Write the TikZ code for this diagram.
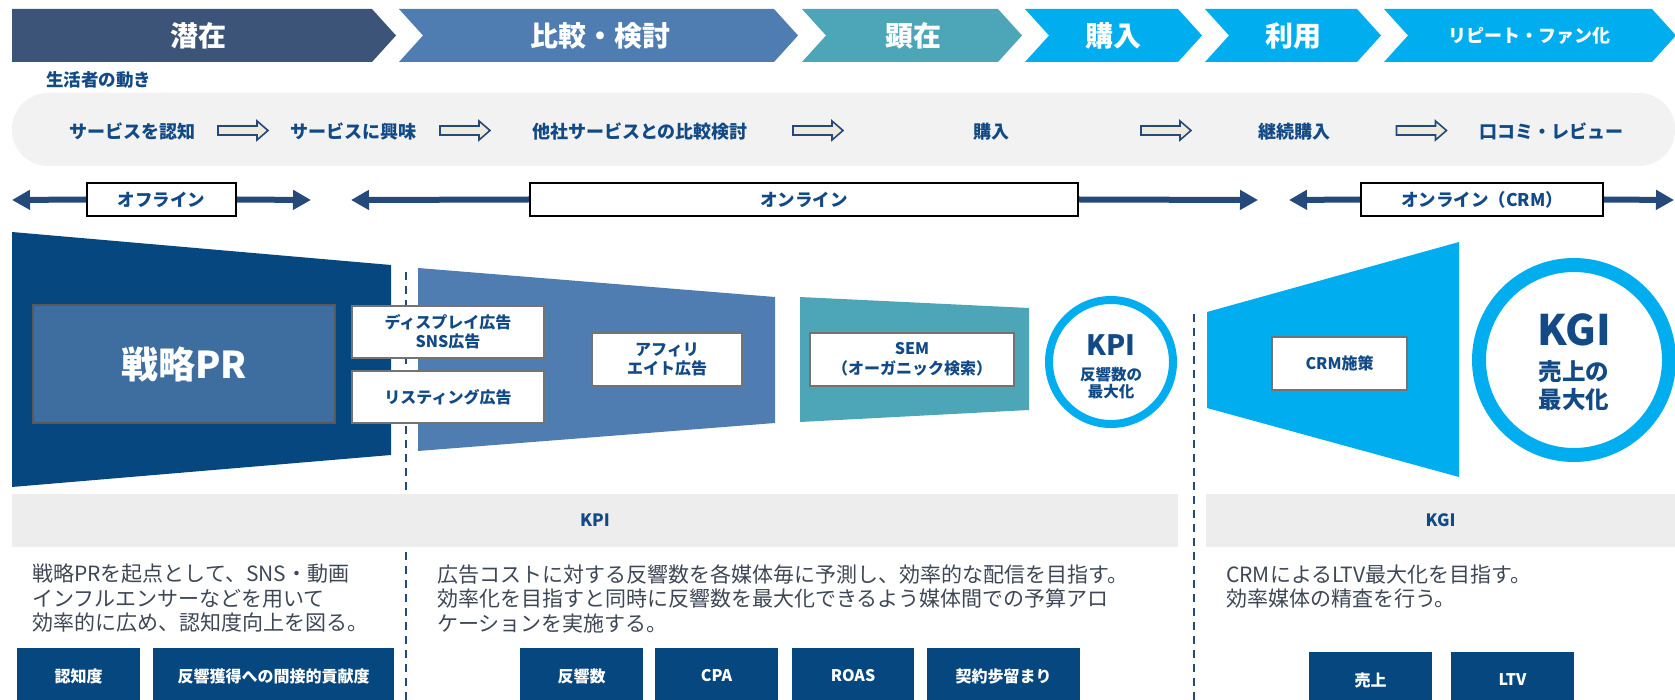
\documentclass[tikz,border=0pt]{standalone}
\usepackage{fontspec}
\setmainfont{Noto Sans CJK JP}
\usetikzlibrary{arrows.meta}

\definecolor{stageA}{HTML}{3B5477}
\definecolor{stageB}{HTML}{4F7DB2}
\definecolor{stageC}{HTML}{4DA5B8}
\definecolor{stageD}{HTML}{00AEEF}
\definecolor{navy}{HTML}{06477F}
\definecolor{prblue}{HTML}{3E6E9F}
\definecolor{labelblue}{HTML}{124A86}
\definecolor{linkblue}{HTML}{24497A}
\definecolor{bandgray}{HTML}{F2F2F2}
\definecolor{bargray}{HTML}{EDEDED}
\definecolor{bodytext}{HTML}{3D4755}
\definecolor{arrowfill}{HTML}{EEEADD}

\newcommand{\fsz}[2]{\fontsize{#1pt}{#2pt}\selectfont}

\begin{document}
\begin{tikzpicture}[x=1pt, y=-1pt, line join=miter,
  >={Triangle[length=18pt,width=19pt]},
  stagetext/.style={text=white, font=\fsz{28}{32}\bfseries},
  flowtext/.style={text=labelblue, font=\fsz{18}{22}\bfseries},
  pics/flowarrow/.style={code={
    \draw[linkblue, fill=arrowfill, line width=1.6pt]
      (-25,-4.5) -- (14,-4.5) -- (14,-9.5) -- (25,0) -- (14,9.5) -- (14,4.5) -- (-25,4.5) -- cycle;}},
  modebox/.style={draw=black, line width=2pt, fill=white, minimum height=33pt,
    text=labelblue, font=\fsz{17.5}{20}\bfseries},
  modeline/.style={draw=linkblue, line width=6pt, ->},
  adbox/.style={draw=gray!90!black, line width=2pt, fill=white, minimum height=53pt,
    align=center, text=labelblue, font=\fsz{16}{19.5}\bfseries},
  divider/.style={draw=linkblue, line width=2.5pt, dash pattern=on 8pt off 6pt},
  ring/.style={draw=stageD, fill=white},
  bar/.style={fill=bargray, minimum height=53pt, text=labelblue, font=\fsz{17}{20}\bfseries},
  body/.style={anchor=west, align=left, inner sep=0pt, text=bodytext, font=\fsz{21}{24.5}},
  metric/.style={fill=navy, text=white, minimum height=56pt, font=\fsz{16}{19}\bfseries},
]
  \useasboundingbox (0,0) rectangle (1675,700);

  % Stages across the top
  \fill[stageA] (12,9) -- (372,9) -- (396,35.5) -- (372,62) -- (12,62) -- cycle;
  \foreach \l/\r/\c in {399/774/stageB, 802/998/stageC, 1025/1178/stageD,
                        1205/1357/stageD, 1384/1652/stageD}
    \fill[\c] (\l,9) -- (\r,9) -- (\r+24,35.5) -- (\r,62) -- (\l,62) -- (\l+24,35.5) -- cycle;
  \node[stagetext] (s1) at (198,35.5) {潜在};
  \node[stagetext] (s2) at (600,35.5) {比較・検討};
  \node[stagetext] (s3) at (913,35.5) {顕在};
  \node[stagetext] (s4) at (1113,35.5) {購入};
  \node[stagetext] (s5) at (1293,35.5) {利用};
  \node[stagetext, font=\fsz{18}{22}\bfseries] (s6) at (1529,35.5) {リピート・ファン化};

  % Consumer journey band
  \node[flowtext, font=\fsz{17.5}{20}\bfseries, anchor=west, inner sep=0pt] (journey) at (46,80) {生活者の動き};
  \fill[bandgray, rounded corners=36pt] (12,93) rectangle (1675,166);
  \node[flowtext] (b1) at (132,131.5) {サービスを認知};
  \pic (a1) at (243,130.5) {flowarrow};
  \node[flowtext] (b2) at (353,131.5) {サービスに興味};
  \pic (a2) at (465,130.5) {flowarrow};
  \node[flowtext] (b3) at (640,131.5) {他社サービスとの比較検討};
  \pic (a3) at (818,130.5) {flowarrow};
  \node[flowtext] (b4) at (991,131.5) {購入};
  \pic (a4) at (1166,130.5) {flowarrow};
  \node[flowtext] (b5) at (1294,131.5) {継続購入};
  \pic (a5) at (1421.5,130.5) {flowarrow};
  \node[flowtext] (b6) at (1551,131.5) {口コミ・レビュー};

  % Offline / online spans
  \coordinate (offL) at (12,200);
  \coordinate (offR) at (311,200);
  \coordinate (onL) at (351,200);
  \coordinate (onR) at (1258,200);
  \coordinate (crmL) at (1289,200);
  \coordinate (crmR) at (1674,200);
  \node[modebox, minimum width=149pt] (off) at (161.5,199.5) {オフライン};
  \node[modebox, minimum width=548pt] (on) at (804,199.5) {オンライン};
  \node[modebox, minimum width=242pt] (crmon) at (1482,199.5) {オンライン（CRM）};
  \draw[modeline] (off.west) -- (offL);
  \draw[modeline] (off.east) -- (offR);
  \draw[modeline] (on.west) -- (onL);
  \draw[modeline] (on.east) -- (onR);
  \draw[modeline] (crmon.west) -- (crmL);
  \draw[modeline] (crmon.east) -- (crmR);

  % Dividers
  \draw[divider] (406,272) -- (406,700);
  \draw[divider] (1194,314) -- (1194,700);

  % Funnel: PR, ads, SEM
  \fill[navy] (12,232) -- (391,265) -- (391,455) -- (12,487) -- cycle;
  \node[draw=gray!70!black, line width=2pt, fill=prblue, minimum width=302pt, minimum height=118pt,
        text=white, font=\fsz{37}{40}\bfseries] (pr) at (184,364) {戦略PR};
  \fill[stageB] (418,268) -- (775,297) -- (775,423) -- (418,451) -- cycle;
  \node[adbox, minimum width=192pt, minimum height=52pt] (disp) at (448,332) {ディスプレイ広告\\SNS広告};
  \node[adbox, minimum width=192pt, minimum height=52pt] (list) at (448,397) {リスティング広告};
  \node[adbox, minimum width=150pt] (affi) at (667,359.5) {アフィリ\\エイト広告};
  \fill[stageC] (800,297) -- (1029,308) -- (1029,410) -- (800,422) -- cycle;
  \node[adbox, minimum width=204pt] (sem) at (912,359.5) {SEM\\（オーガニック検索）};

  % KPI target
  \draw[ring, line width=8pt] (1111,362) circle[radius=62];
  \node[text=labelblue, font=\fsz{28}{30}\bfseries] (kpi) at (1111,345) {KPI};
  \node[text=labelblue, align=center, font=\fsz{15.5}{16.5}\bfseries] (kpisub) at (1111,383) {反響数の\\最大化};

  % CRM funnel and KGI target
  \fill[stageD] (1207,312) -- (1459,242) -- (1459,477) -- (1207,408) -- cycle;
  \node[adbox, minimum width=135pt] (crm) at (1339.5,363.5) {CRM施策};
  \draw[ring, line width=14pt] (1574,360) circle[radius=95];
  \node[text=labelblue, font=\fsz{42}{44}\bfseries] (kgi) at (1574,330) {KGI};
  \node[text=labelblue, align=center, font=\fsz{23.5}{28}\bfseries] (kgisub) at (1574,386) {売上の\\最大化};

  % Indicator bars
  \node[bar, minimum width=1166pt] (kpibar) at (595,520.5) {KPI};
  \node[bar, minimum width=469pt] (kgibar) at (1440.5,520.5) {KGI};

  % Descriptions
  \node[body] (d1) at (32,598.5) {戦略PRを起点として、SNS・動画\\インフルエンサーなどを用いて\\効率的に広め、認知度向上を図る。};
  \node[body] (d2) at (437,598.5) {広告コストに対する反響数を各媒体毎に予測し、効率的な配信を目指す。\\効率化を目指すと同時に反響数を最大化できるよう媒体間での予算アロ\\ケーションを実施する。};
  \node[body] (d3) at (1226,586.5) {CRMによるLTV最大化を目指す。\\効率媒体の精査を行う。};

  % Metrics
  \node[metric, minimum width=123pt] (m1) at (78.5,676) {認知度};
  \node[metric, minimum width=241pt] (m2) at (273.5,676) {反響獲得への間接的貢献度};
  \node[metric, minimum width=123pt] (m3) at (581.5,676) {反響数};
  \node[metric, minimum width=123pt] (m4) at (716.5,676) {CPA};
  \node[metric, minimum width=122pt] (m5) at (853,676) {ROAS};
  \node[metric, minimum width=153pt] (m6) at (1003.5,676) {契約歩留まり};
  \node[metric, minimum width=123pt] (m7) at (1370.5,680) {売上};
  \node[metric, minimum width=123pt] (m8) at (1512.5,680) {LTV};
\end{tikzpicture}
\end{document}
